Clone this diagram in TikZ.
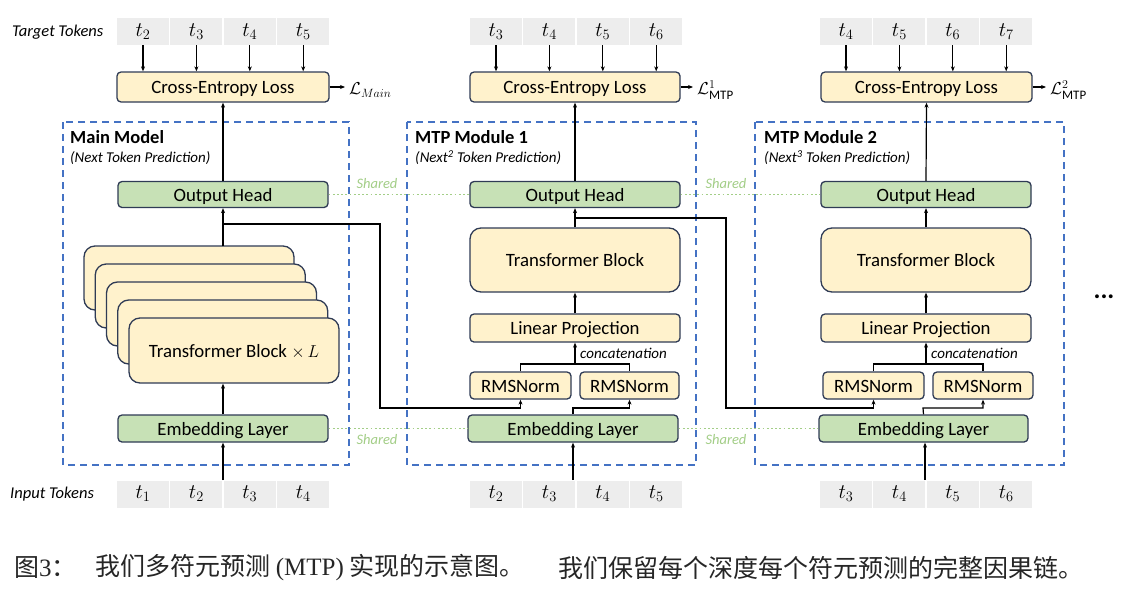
\documentclass[tikz,border=0pt]{standalone}
\usepackage{fontspec}
\setmainfont{Carlito}
\newfontfamily\cjk{Noto Sans CJK SC}
\newfontfamily\capserif{Liberation Serif}
\usetikzlibrary{arrows.meta}
\definecolor{yfill}{HTML}{FFF2CC}
\definecolor{gfill}{HTML}{C7E1B6}
\definecolor{bord}{HTML}{2F3B55}
\definecolor{tokgray}{HTML}{EDEDED}
\definecolor{dblue}{HTML}{4472C4}
\definecolor{sgreen}{HTML}{A3CE87}
\begin{document}
\begin{tikzpicture}[x=1pt,y=-1pt,
  box/.style={draw=bord, line width=1.3pt, rounded corners=4pt, inner sep=0pt, text height=13.6pt, text depth=0pt, font=\fontsize{18.8}{22}\selectfont},
  ybox/.style={box, fill=yfill},
  gbox/.style={box, fill=gfill},
  bigbox/.style={box, fill=yfill, rounded corners=11pt},
  tok/.style={fill=tokgray, minimum width=52pt, minimum height=27pt, inner sep=0pt, font=\fontsize{19.5}{22}\selectfont},
  arr/.style={-{Stealth[length=5pt,width=4pt]}, line width=1.2pt},
  ln/.style={line width=1.2pt},
  modframe/.style={draw=dblue, line width=1.7pt, dash pattern=on 7pt off 5pt},
  shared/.style={draw=sgreen, line width=1.9pt, dash pattern=on 1.8pt off 2.4pt},
  sharedtxt/.style={text=sgreen, font=\fontsize{14.5}{16}\selectfont\itshape},
  ttl/.style={anchor=west, inner sep=0pt, font=\fontsize{18.5}{21}\selectfont\bfseries},
  subttl/.style={anchor=west, inner sep=0pt, font=\fontsize{15}{17}\selectfont\itshape},
  rowlbl/.style={anchor=west, inner sep=0pt, font=\fontsize{16.5}{18}\selectfont\itshape},
  losslbl/.style={anchor=west, inner sep=0pt, font=\fontsize{18.5}{21}\selectfont},
  cattxt/.style={anchor=west, inner sep=0pt, font=\fontsize{15}{17}\selectfont\itshape}
]
\useasboundingbox (0,0) rectangle (1127,592);
\fill[white] (0,0) rectangle (1127,592);

% module frames
\draw[modframe] (63,122) rectangle (349,465);
\draw[modframe] (407,122) rectangle (696,465);
\draw[modframe] (755,122) rectangle (1064,465);

\node[ttl] (tt0) at (70,137) {Main Model};
\node[subttl] (st0) at (70,158) {(Next Token Prediction)};
\node[ttl] (tt1) at (415,137) {MTP Module 1};
\node[subttl] (st1) at (415,158) {(Next\textsuperscript{2} Token Prediction)};
\node[ttl] (tt2) at (764,137) {MTP Module 2};
\node[subttl] (st2) at (764,158) {(Next\textsuperscript{3} Token Prediction)};

\node[rowlbl] (tgl) at (12,32) {Target Tokens};
\node[rowlbl] (inl) at (10,494) {Input Tokens};

% cross entropy
\node[ybox, minimum width=212pt, minimum height=30pt] (ce0) at (223,87) {Cross-Entropy Loss};
\node[ybox, minimum width=210pt, minimum height=30pt] (ce1) at (575,87) {Cross-Entropy Loss};
\node[ybox, minimum width=211pt, minimum height=30pt] (ce2) at (926.5,87) {Cross-Entropy Loss};

\node[losslbl] (L0) at (349,90) {$\mathcal{L}_{Main}$};
\node[losslbl] (L1) at (697,90) {$\mathcal{L}_{\mathrm{MTP}}^{1}$};
\node[losslbl] (L2) at (1050,90) {$\mathcal{L}_{\mathrm{MTP}}^{2}$};
\draw[arr, shorten >=4pt] (ce0.east) -- (ce0.east -| L0.west);
\draw[arr, shorten >=4pt] (ce1.east) -- (ce1.east -| L1.west);
\draw[arr, shorten >=4pt] (ce2.east) -- (ce2.east -| L2.west);

% tokens
\foreach \k/\L/\s in {0/117/2, 1/470/3, 2/820/4} {
  \foreach \i in {0,1,2,3} {
    \pgfmathtruncatemacro\tn{\s+\i}
    \pgfmathtruncatemacro\inn{\s+\i-1}
    \node[tok] (tg\k\i) at (\L+26+53.4*\i, 31.5) {$t_{\tn}$};
    \node[tok] (in\k\i) at (\L+26+53.4*\i, 494) {$t_{\inn}$};
    \draw[arr] (tg\k\i.south) -- (tg\k\i.south |- ce\k.north);
  }
}

% output heads & embeddings
\node[gbox, minimum width=210pt, minimum height=26pt] (oh0) at (223,194.5) {Output Head};
\node[gbox, minimum width=210pt, minimum height=26pt] (oh1) at (575,194.5) {Output Head};
\node[gbox, minimum width=210pt, minimum height=26pt] (oh2) at (926,194.5) {Output Head};
\node[gbox, minimum width=210pt, minimum height=27pt] (em0) at (223,428.5) {Embedding Layer};
\node[gbox, minimum width=210pt, minimum height=27pt] (em1) at (573,428.5) {Embedding Layer};
\node[gbox, minimum width=209pt, minimum height=27pt] (em2) at (923.5,428.5) {Embedding Layer};

\draw[arr] (oh0.north) -- (ce0.south);
\draw[arr] (oh1.north) -- (ce1.south);
\draw[arr] (oh2.north) -- (ce2.south);

% shared links
\draw[shared] (oh0.east) -- (oh1.west);
\draw[shared] (oh1.east) -- (oh2.west);
\draw[shared] (em0.east) -- (em1.west);
\draw[shared] (em1.east) -- (em2.west);
\node[sharedtxt] (sh1) at (377,184) {Shared};
\node[sharedtxt] (sh2) at (726,184) {Shared};
\node[sharedtxt] (sh3) at (377,440) {Shared};
\node[sharedtxt] (sh4) at (726,440) {Shared};

% main model stacked transformer blocks
\foreach \j in {0,1,2,3} {
  \draw[draw=bord, fill=yfill, line width=1.3pt, rounded corners=11pt]
    (84+11.25*\j, 246+18*\j) rectangle (294+11.25*\j, 310+18*\j);
}
\node[bigbox, minimum width=210pt, minimum height=65pt] (tbf) at (234,350.5) {Transformer Block $\times\, L$};

\coordinate (tbtop0) at (223,246);
\coordinate (in0c) at (223,480);
\draw[arr] (in0c) -- (em0.north |- em0.south);
\draw[arr] (em0.north) -- (em0.north |- tbf.south);
\draw[arr] (tbtop0) -- (tbtop0 |- oh0.south);

% module 1
\node[bigbox, minimum width=210pt, minimum height=64pt] (tb1) at (575,260) {Transformer Block};
\node[ybox, minimum width=210pt, minimum height=28pt] (lp1) at (575,328) {Linear Projection};
\node[ybox, minimum width=101pt, minimum height=27pt] (ra1) at (520.5,385.5) {RMSNorm};
\node[ybox, minimum width=99pt, minimum height=27pt] (rb1) at (629.5,385.5) {RMSNorm};
\draw[arr] (tb1.north) -- (oh1.south);
\draw[arr] (lp1.north) -- (tb1.south);
\coordinate (cat1) at (575,364);
\draw[ln] (ra1.north) |- (cat1) -| (rb1.north);
\draw[arr] (cat1) -- (lp1.south);
\node[cattxt] (ct1) at (580,353) {concatenation};
\coordinate (in1c) at (573,480);
\draw[arr] (in1c) -- (em1.south);
\coordinate (j1) at (573,408);
\draw[arr] (em1.north) -- (j1) -| (rb1.south);

% module 2
\node[bigbox, minimum width=210pt, minimum height=64pt] (tb2) at (926,260) {Transformer Block};
\node[ybox, minimum width=210pt, minimum height=28pt] (lp2) at (926,328) {Linear Projection};
\node[ybox, minimum width=101pt, minimum height=27pt] (ra2) at (873.5,385.5) {RMSNorm};
\node[ybox, minimum width=100pt, minimum height=27pt] (rb2) at (983,385.5) {RMSNorm};
\draw[arr] (tb2.north) -- (oh2.south);
\draw[arr] (lp2.north) -- (tb2.south);
\coordinate (cat2) at (926,364);
\draw[ln] (ra2.north) |- (cat2) -| (rb2.north);
\draw[arr] (cat2) -- (lp2.south);
\node[cattxt] (ct2) at (931,353) {concatenation};
\coordinate (in2c) at (925,480);
\draw[arr] (in2c) -- (em2.south -| in2c);
\coordinate (j2) at (923,408);
\draw[arr] (em2.north) -- (j2) -| (rb2.south);

% cross-module hidden-state links
\coordinate (b0) at (223,224);
\coordinate (r0a) at (380,224);
\coordinate (r0b) at (380,408);
\draw[arr] (b0) -- (r0a) -- (r0b) -| (ra1.south);
\coordinate (b1) at (575,218);
\coordinate (r1a) at (726,218);
\coordinate (r1b) at (726,408);
\draw[arr] (b1) -- (r1a) -- (r1b) -| (ra2.south);

% ellipsis
\node[font=\fontsize{26}{26}\selectfont\bfseries, inner sep=0pt] (dots) at (1104,297) {...};

% caption
\node[anchor=west, inner sep=0pt, text=black!85, font=\fontsize{25}{28}\selectfont] (cap1) at (14,568) {\cjk 图{\capserif 3}：};
\node[anchor=west, inner sep=0pt, text=black!85, font=\fontsize{25}{28}\selectfont] (cap2) at (95,568) {\cjk 我们多符元预测 {\capserif (MTP)} 实现的示意图。};
\node[anchor=west, inner sep=0pt, text=black!85, font=\fontsize{25}{28}\selectfont] (cap3) at (558,568) {\cjk 我们保留每个深度每个符元预测的完整因果链。};
\end{tikzpicture}
\end{document}
